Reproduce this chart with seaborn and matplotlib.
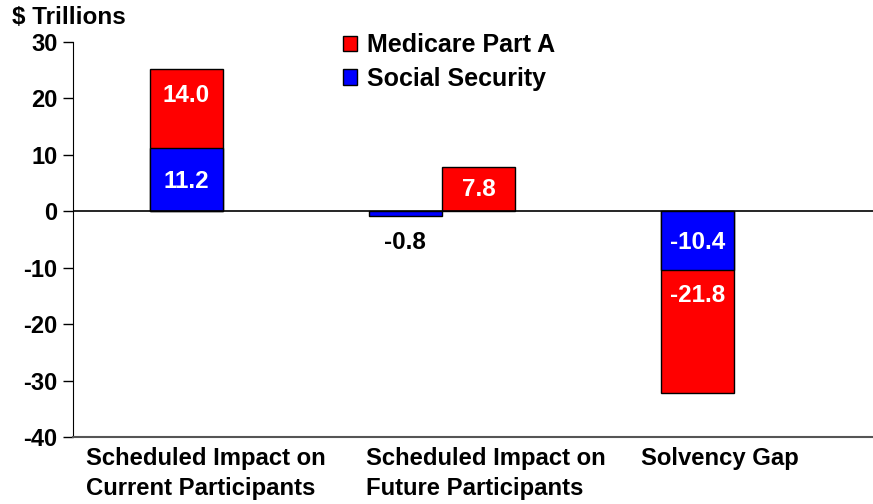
import pandas as pd
import matplotlib.pyplot as plt
import seaborn as sns

# --- dados ---
groups = ['Scheduled Impact on\nCurrent Participants',
          'Scheduled Impact on\nFuture Participants',
          'Solvency Gap']
medicare = [14.0, 7.8, -21.8]
social_security = [11.2, -0.8, -10.4]
stacked = [True, False, True]
series = ['Medicare Part A', 'Social Security']
colors = {'Medicare Part A': '#FF0000', 'Social Security': '#0000FF'}

# layout (em unidades de largura de barra)
centers = [1.5, 5.0, 8.5]
label_x = [0.13, 3.96, 7.72]
red_frac = [0.67, 0.5, 0.21]
blue_frac = [0.47, 0.5, 0.53]

rows = []
for i in range(len(groups)):
    if stacked[i]:
        xr, xb = centers[i], centers[i]
        red_h = medicare[i] + social_security[i]
    else:
        xb, xr = centers[i] - 0.5, centers[i] + 0.5
        red_h = medicare[i]
    rows.append({'x': xr, 'valor': red_h, 'serie': series[0]})
    rows.append({'x': xb, 'valor': social_security[i], 'serie': series[1]})
df = pd.DataFrame(rows)

sns.set_style('white')
plt.rcParams['font.family'] = ['Liberation Sans', 'DejaVu Sans']
plt.rcParams['font.weight'] = 'bold'
plt.rcParams['axes.unicode_minus'] = False
plt.rcParams['text.color'] = 'black'
plt.rcParams['ytick.color'] = 'black'
plt.rcParams['ytick.labelcolor'] = 'black'

fs = 17.5

fig = plt.figure(figsize=(8.73, 5.04), dpi=100)
ax = fig.add_axes([73 / 873, 67 / 504, 800 / 873, 395 / 504])

sns.barplot(data=df, x='x', y='valor', hue='serie', hue_order=series,
            palette=colors, native_scale=True, dodge=False, width=1,
            saturation=1, edgecolor='black', linewidth=1, ax=ax)

ax.axhline(0, color='black', lw=1.2, zorder=1)
ax.set_xlim(-0.05, 10.9)
ax.set_ylim(-40, 30)
ax.set_yticks(range(-40, 31, 10))
ax.set_xticks([])
ax.set_xlabel('')
ax.set_ylabel('')
ax.tick_params(axis='y', direction='out', length=7, width=1, pad=4,
               labelsize=17, left=True, colors='black')
for lbl in ax.get_yticklabels():
    lbl.set_fontweight('bold')
for s in ['top', 'right']:
    ax.spines[s].set_visible(False)
ax.spines['left'].set_color('black')
ax.spines['bottom'].set_color('#555555')
ax.spines['bottom'].set_linewidth(1.5)

# rótulos das barras
for i in range(len(groups)):
    if stacked[i]:
        xr, xb = centers[i], centers[i]
        base = social_security[i]
    else:
        xb, xr = centers[i] - 0.5, centers[i] + 0.5
        base = 0
    ax.text(xr, base + medicare[i] * red_frac[i], f'{medicare[i]:.1f}',
            ha='center', va='center', color='white', fontsize=fs, fontweight='bold')
    if abs(social_security[i]) > 2:
        ax.text(xb, social_security[i] * blue_frac[i], f'{social_security[i]:.1f}',
                ha='center', va='center', color='white', fontsize=fs, fontweight='bold')
    else:
        ax.text(xb, -5.5, f'{social_security[i]:.1f}',
                ha='center', va='center', color='black', fontsize=fs, fontweight='bold')

# rótulos das categorias
for i, g in enumerate(groups):
    ax.text(label_x[i], -41.7, g, ha='left', va='top', fontsize=17.2,
            fontweight='bold', linespacing=1.42)

handles, labels = ax.get_legend_handles_labels()
ax.legend(handles, labels, loc='upper left', bbox_to_anchor=(0.3375, 1.022),
          frameon=False, handlelength=0.56, handleheight=0.56,
          handletextpad=0.4, labelspacing=0.38, borderpad=0, borderaxespad=0,
          prop={'weight': 'bold', 'size': 18})

fig.text(12 / 873, 1 - 18 / 504, '$ Trillions', ha='left', va='center',
         fontsize=fs, fontweight='bold')

plt.savefig('out.png', dpi=100)
